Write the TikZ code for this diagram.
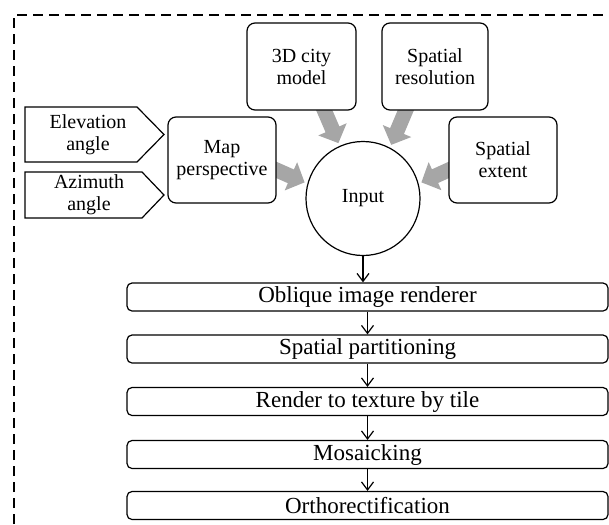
\documentclass[tikz,border=0pt]{standalone}
\usepackage{fontspec}
\setmainfont{Liberation Serif}
\usetikzlibrary{arrows.meta,backgrounds}
\definecolor{arrgray}{HTML}{A6A6A6}
\tikzset{
 topbox/.style={draw, line width=1.2pt, rounded corners=8pt, fill=white, inner sep=0pt, align=center, font=\fontsize{20}{22}\selectfont},
 flowbox/.style={draw, line width=1.2pt, rounded corners=5pt, fill=white, minimum width=481pt, minimum height=28pt, inner sep=0pt, font=\fontsize{23}{25}\selectfont},
 chev/.style={draw, line width=1.2pt, fill=white},
 lbl/.style={inner sep=0pt, align=center, font=\fontsize{20}{22}\selectfont},
 bigarrow/.style={line width=15pt, draw=arrgray, -{Triangle[width=30pt,length=15pt]}, shorten >=3pt},
 flowarrow/.style={line width=1.2pt, -{Straight Barb[length=8pt,width=12pt]}},
 frame/.style={line width=1.2pt, dash pattern=on 10pt off 6pt},
}
\begin{document}
\begin{tikzpicture}[x=1pt,y=-1pt]
\useasboundingbox (0,0) rectangle (609,524);
\clip (0,0) rectangle (609,524);
\draw[frame] (14,540) -- (14,15) -- (620,15);

\node[topbox, minimum width=109pt, minimum height=87pt] (city) at (301.5,66.5) {3D city\\model};
\node[topbox, minimum width=106pt, minimum height=87pt] (res) at (435,66.5) {Spatial\\resolution};
\node[topbox, minimum width=108pt, minimum height=86pt] (map) at (222,160) {Map\\perspective};
\node[topbox, minimum width=108pt, minimum height=86pt] (ext) at (503,160) {Spatial\\extent};
\node[circle, draw, line width=1.2pt, fill=white, minimum size=114pt, inner sep=0pt, font=\fontsize{20}{22}\selectfont] (input) at (363,198.5) {Input};

\draw[chev] (25,107) -- (137,107) -- (164,134.5) -- (137,162) -- (25,162) -- cycle;
\node[lbl] (elev) at (88,135) {Elevation\\angle};
\draw[chev] (25,172) -- (142,172) -- (164,195) -- (142,218) -- (25,218) -- cycle;
\node[lbl] (azim) at (89,195) {Azimuth\\angle};

\node[flowbox] (b1) at (367.5,297) {Oblique image renderer};
\node[flowbox] (b2) at (367.5,349) {Spatial partitioning};
\node[flowbox] (b3) at (367.5,401.5) {Render to texture by tile};
\node[flowbox] (b4) at (367.5,454.5) {Mosaicking};
\node[flowbox] (b5) at (367.5,505.5) {Orthorectification};

\begin{scope}[on background layer]
\coordinate (s1) at (322,105);
\coordinate (s2) at (408,105);
\coordinate (s3) at (272,168);
\coordinate (s4) at (453,168);
\draw[bigarrow] (s1) -- (input.114);
\draw[bigarrow] (s2) -- (input.62);
\draw[bigarrow] (s3) -- (input.165);
\draw[bigarrow] (s4) -- (input.15);
\end{scope}

\coordinate (t1) at (input.south |- b1.north);
\draw[flowarrow] (input.south) -- (t1);
\draw[flowarrow] (b1) -- (b2);
\draw[flowarrow] (b2) -- (b3);
\draw[flowarrow] (b3) -- (b4);
\draw[flowarrow] (b4) -- (b5);
\end{tikzpicture}
\end{document}
